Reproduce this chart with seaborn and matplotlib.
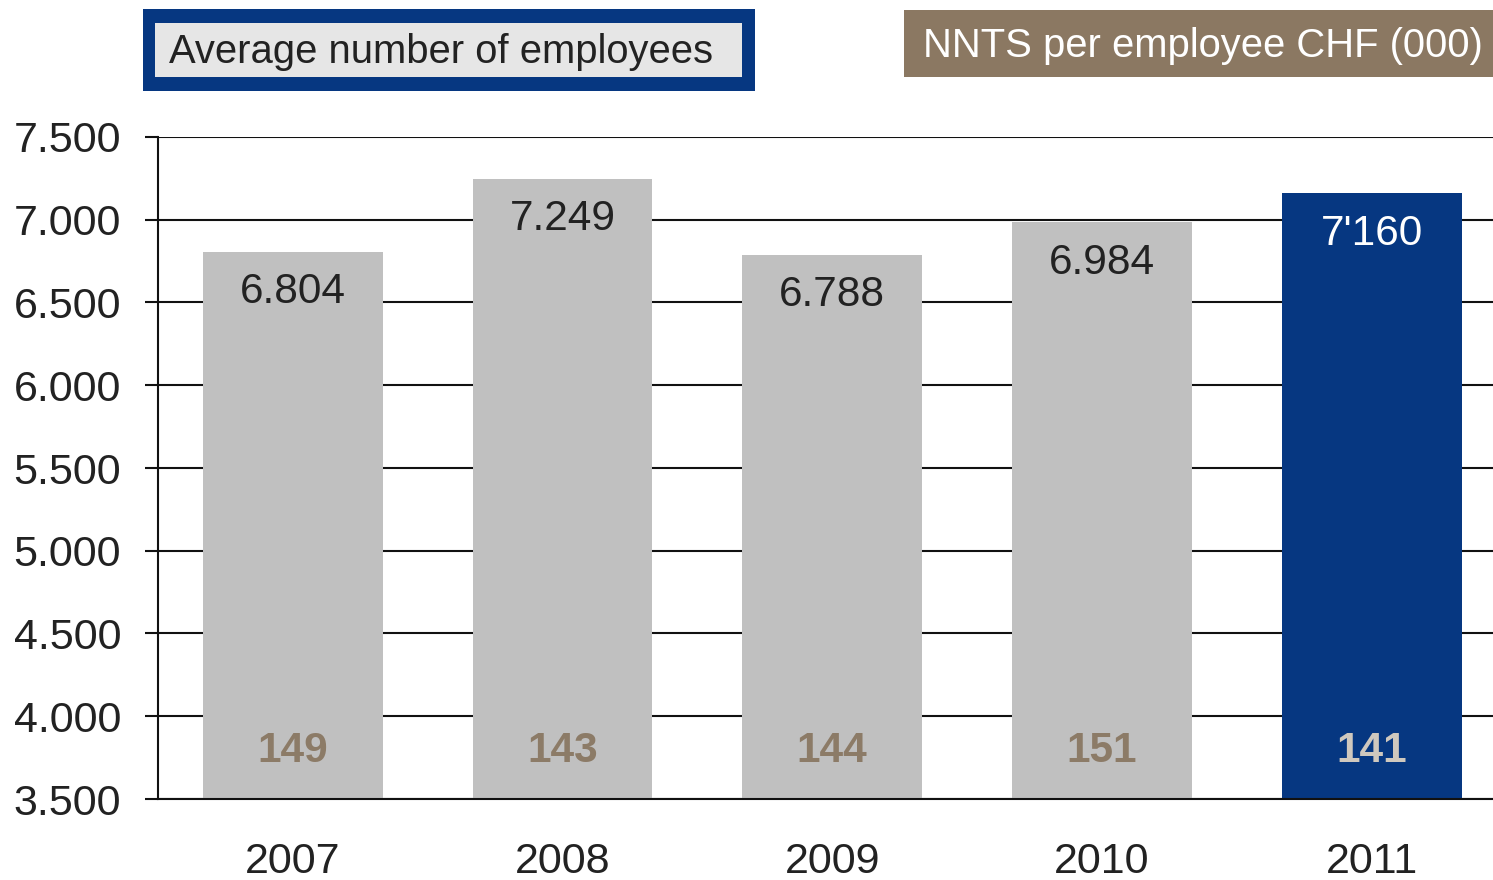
import matplotlib
matplotlib.use("Agg")
import matplotlib.pyplot as plt
from matplotlib.patches import Rectangle
import seaborn as sns
import pandas as pd

# Data
years = ["2007", "2008", "2009", "2010", "2011"]
employees = [6804, 7249, 6788, 6984, 7160]
employee_labels = ["6.804", "7.249", "6.788", "6.984", "7'160"]
nnts_per_employee = [149, 143, 144, 151, 141]
y_ticks = [3500, 4000, 4500, 5000, 5500, 6000, 6500, 7000, 7500]
y_tick_labels = ["3.500", "4.000", "4.500", "5.000", "5.500", "6.000", "6.500", "7.000", "7.500"]

GREY = "#C0C0C0"
BLUE = "#063781"
BROWN = "#8B7862"
BROWN_TXT = "#8C7B67"
INK = "#222222"
bar_colors = [GREY, GREY, GREY, GREY, BLUE]

sns.set_theme(style="white")
plt.rcParams["font.family"] = ["Liberation Sans", "DejaVu Sans"]

W, H = 1493, 880
fig = plt.figure(figsize=(W / 100, H / 100), dpi=100)
ax = fig.add_axes([158 / W, (H - 799) / H, (W - 158) / W, (799 - 137) / H])

df = pd.DataFrame({"year": years, "employees": employees})
sns.barplot(data=df, x="year", y="employees", hue="year", palette=bar_colors,
            legend=False, width=0.667, saturation=1, linewidth=0, ax=ax, zorder=3)

ax.set_ylim(3500, 7500)
ax.set_xlim(-0.5, 4.45)
ax.set_yticks(y_ticks)
ax.set_yticklabels(y_tick_labels)
ax.set_xlabel("")
ax.set_ylabel("")

ax.yaxis.grid(True, color="#111111", linewidth=1.5, zorder=0)
ax.set_axisbelow(True)
for side in ["top", "right"]:
    ax.spines[side].set_visible(False)
for side in ["left", "bottom"]:
    ax.spines[side].set_color("#111111")
    ax.spines[side].set_linewidth(1.5)
    ax.spines[side].set_zorder(4)

ax.tick_params(axis="y", which="both", left=True, length=9.5, width=1.5,
               color="#111111", pad=17, labelsize=31, labelcolor=INK)
ax.tick_params(axis="x", which="both", bottom=False, length=0, pad=31,
               labelsize=31, labelcolor=INK)

# Value labels inside the bars
for i, (v, lab, n) in enumerate(zip(employees, employee_labels, nnts_per_employee)):
    top_color = "white" if bar_colors[i] == BLUE else INK
    ax.annotate(lab, xy=(i, v), xytext=(0, -29), textcoords="offset points",
                ha="center", va="center", fontsize=30.5, color=top_color, zorder=5)
    bot_color = "#CFC8BE" if bar_colors[i] == BLUE else BROWN_TXT
    ax.annotate(str(n), xy=(i, 3500), xytext=(0, 34.5), textcoords="offset points",
                ha="center", va="center", fontsize=30.5, fontweight="bold",
                color=bot_color, zorder=5)

# Header boxes
def fx(px):
    return px / W

def fy(py):
    return 1 - py / H

fig.patches.append(Rectangle((fx(143), fy(91)), fx(755) - fx(143), fy(9) - fy(91),
                             transform=fig.transFigure, facecolor=BLUE, edgecolor="none"))
fig.patches.append(Rectangle((fx(155), fy(77)), fx(742) - fx(155), fy(23) - fy(77),
                             transform=fig.transFigure, facecolor="#E6E6E6", edgecolor="none"))
fig.text(fx(169), fy(52), "Average number of employees", ha="left", va="center",
         fontsize=28.8, color=INK)

fig.patches.append(Rectangle((fx(904), fy(77)), fx(1493) - fx(904), fy(10) - fy(77),
                             transform=fig.transFigure, facecolor=BROWN, edgecolor="none"))
fig.text(fx(1203), fy(46), "NNTS per employee CHF (000)", ha="center", va="center",
         fontsize=28.8, color="white")

fig.savefig("out.png", dpi=100)
